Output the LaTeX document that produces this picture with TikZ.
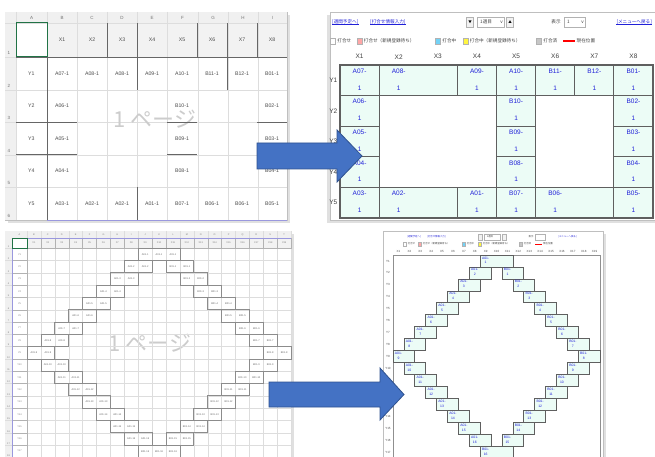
\documentclass[tikz,border=0pt]{standalone}
\usepackage{fontspec}
\setmainfont{Liberation Sans}
\newfontfamily\jpfont{Noto Sans CJK JP}
\usepackage{tikz}
\usetikzlibrary{positioning}

\definecolor{gridgray}{HTML}{DDDDDD}
\definecolor{headgray}{HTML}{F0F0F0}
\definecolor{selgreen}{HTML}{217346}
\definecolor{selblue}{HTML}{9A98DE}
\definecolor{cellfill}{HTML}{ECFCF6}
\definecolor{celledge}{HTML}{5F5F5F}
\definecolor{linkblue}{HTML}{2020D8}
\definecolor{arrowfill}{HTML}{4472C4}
\definecolor{arrowedge}{HTML}{2F528F}

% row / first column / last column / prefix / number
\newcommand{\diamondcells}{%
  1/9/11/A/1, 2/8/9/A/2, 3/7/8/A/3, 4/6/7/A/4, 5/5/6/A/5, 6/4/5/A/6,
  7/3/4/A/7, 8/2/3/A/8, 9/1/2/A/9, 10/2/3/A/10, 11/3/4/A/11, 12/4/5/A/12,
  13/5/6/A/13, 14/6/7/A/14, 15/7/8/A/15, 16/8/9/A/16,
  2/11/12/B/1, 3/12/13/B/2, 4/13/14/B/3, 5/14/15/B/4, 6/15/16/B/5,
  7/16/17/B/6, 8/17/18/B/7, 9/18/19/B/8, 10/17/18/B/9, 11/16/17/B/10,
  12/15/16/B/11, 13/14/15/B/12, 14/13/14/B/13, 15/12/13/B/14,
  16/11/12/B/15, 17/9/11/B/16}

\begin{document}
\begin{tikzpicture}[x=1pt, y=-1pt,
    every node/.style={inner sep=0pt, font=\fontsize{5}{6}\selectfont},
    panel/.style={draw=gray!50, fill=white, line width=0.6pt},
    panelshadow/.style={fill=black!12},
    gridline/.style={gridgray, line width=0.4pt},
    groupline/.style={black!60, line width=0.9pt},
    hdr/.style={text=black!55, font=\fontsize{4.5}{5}\selectfont},
    tinyhdr/.style={text=black!50, font=\fontsize{2.4}{3}\selectfont},
    sheettext/.style={text=black!70, font=\fontsize{5.2}{6}\selectfont},
    tinytext/.style={text=black!60, font=\fontsize{2.5}{3}\selectfont},
    watermark/.style={text=gray!40, font=\jpfont\fontsize{22}{24}\selectfont},
    webcell/.style={draw=celledge, fill=cellfill, line width=0.9pt},
    webtext/.style={text=linkblue, font=\fontsize{6.5}{7}\selectfont},
    webtiny/.style={text=linkblue, font=\fontsize{3.4}{4}\selectfont},
    weblabel/.style={text=black!75, font=\fontsize{6.5}{7}\selectfont},
    weblabeltiny/.style={text=black!70, font=\fontsize{3}{3.5}\selectfont},
    link/.style={text=linkblue, font=\jpfont\fontsize{4.6}{5}\selectfont},
    linktiny/.style={text=linkblue, font=\jpfont\fontsize{2.4}{3}\selectfont},
    legend/.style={text=black!75, font=\jpfont\fontsize{4.6}{5}\selectfont},
    legendtiny/.style={text=black!75, font=\jpfont\fontsize{2.4}{3}\selectfont},
    swatch/.style={draw=gray!60, minimum width=5pt, minimum height=6.5pt},
    swatchtiny/.style={draw=gray!60, minimum width=3pt, minimum height=3.6pt},
    btn/.style={draw=gray!60, fill=gray!10, minimum width=7pt, minimum height=10pt},
    selbox/.style={draw=gray!60, fill=white, minimum height=10pt},
    bigarrow/.style={fill=arrowfill, draw=arrowedge, line width=0.8pt}
  ]
  \useasboundingbox (0,0) rectangle (655,457);

  % Top left: spreadsheet, 8 columns
  \fill[panelshadow] (8,15) rectangle (290,223);
  \draw[panel] (5,12) rectangle (287,220);
  \fill[headgray] (5,12) rectangle (287,23);
  \fill[headgray] (5,23) rectangle (16,220);
  \fill[gray!10] (47,23) rectangle (287,57);
  \foreach \x in {16,47,77,107,137,167,198,228,258}
    \draw[gridline] (\x,12) -- (\x,220);
  \foreach \y in {23,57,90,122,155,187}
    \draw[gridline] (5,\y) -- (287,\y);
  \foreach \l/\x in {A/31.5,B/62,C/92,D/122,E/152,F/182.5,G/213,H/243,I/272.5}
    \node[hdr] (tlcol\l) at (\x,17.5) {\l};
  \foreach \n/\y in {1/53,2/86,3/118,4/151,5/183,6/216}
    \node[hdr] (tlrow\n) at (9,\y) {\n};
  \draw[selgreen, line width=1pt] (16,23) rectangle (47,57);
  \node[watermark] (tlmark) at (155,119) {1 ページ};

  \begin{scope}[shift={(47,57)}, x=30pt, y=-32.6pt]
    \foreach \txt [count=\c] in {X1,X2,X3,X4,X5,X6,X7,X8}
      \node[sheettext] (tlx\c) at (\c-0.5,-0.52) {\txt};
    \foreach \r in {1,...,5}
      \node[sheettext] (tly\r) at (-0.52,\r-0.5) {Y\r};
    \foreach \txt [count=\c] in {A07-1,A08-1,A08-1,A09-1,A10-1,B11-1,B12-1,B01-1}
      \node[sheettext] (tlcell1-\c) at (\c-0.5,0.5) {\txt};
    \foreach \r/\a/\m/\b in {2/A06/B10/B02, 3/A05/B09/B03, 4/A04/B08/B04} {
      \node[sheettext] (tlcell\r-1) at (0.5,\r-0.5) {\a-1};
      \node[sheettext] (tlcell\r-5) at (4.5,\r-0.5) {\m-1};
      \node[sheettext] (tlcell\r-8) at (7.5,\r-0.5) {\b-1};
    }
    \foreach \txt [count=\c] in {A03-1,A02-1,A02-1,A01-1,B07-1,B06-1,B06-1,B05-1}
      \node[sheettext] (tlcell5-\c) at (\c-0.5,4.5) {\txt};
    % print area borders
    \draw[groupline] (-1.03,0) -- (8,0);
    \draw[groupline] (0,0) -- (0,5);
    \foreach \x in {2,5,7} \draw[groupline] (\x,-1.03) -- (\x,0);
    \foreach \x in {3,6} \draw[groupline] (\x,-1.03) -- (\x,1);
    \foreach \y in {2,3} {
      \draw[groupline] (-1.03,\y) -- (1,\y);
      \draw[groupline] (4,\y) -- (5,\y);
      \draw[groupline] (7,\y) -- (8,\y);
    }
    \draw[groupline] (3,4) -- (3,5);
    \draw[selblue, line width=1pt] (0,5) -- (8,5);
  \end{scope}

  % Top right: web screen, 8 columns
  \fill[panelshadow] (327,15) rectangle (658,223);
  \draw[panel] (330,12) rectangle (658,220);
  \node[link, anchor=west] (trweek) at (332,22) {[週間予定へ]};
  \node[link, anchor=west] (trinput) at (370,22) {[打合せ情報入力]};
  \draw[linkblue, line width=0.3pt] (trweek.south west) -- (trweek.south east);
  \draw[linkblue, line width=0.3pt] (trinput.south west) -- (trinput.south east);
  \node[btn] (trprev) at (470,22) {\jpfont\fontsize{3.5}{4}\selectfont▼};
  \node[selbox, minimum width=27pt] (trweeksel) at (491,22) {};
  \node[legend, anchor=west] (trweektext) at (480,22) {1週目};
  \node[legend, anchor=east] (trweekdrop) at (503,22) {v};
  \node[btn] (trnext) at (510,22) {\jpfont\fontsize{3.5}{4}\selectfont▲};
  \node[legend] (trshow) at (556,22) {表示};
  \node[selbox, minimum width=21pt] (trshowsel) at (575,22) {};
  \node[legend, anchor=west] (trshowval) at (567,22) {1};
  \node[legend, anchor=east] (trshowdrop) at (584,22) {v};
  \node[link, anchor=east] (trmenu) at (652,22) {[メニューへ戻る]};
  \draw[linkblue, line width=0.3pt] (trmenu.south west) -- (trmenu.south east);

  % legend
  \node[swatch, fill=white] (lgnone) at (333,41) {};
  \node[legend, right=1.5pt of lgnone] (lgnonetext) {打合せ};
  \node[swatch, fill=red!35] (lgwait) at (359.5,41) {};
  \node[legend, right=1.5pt of lgwait] (lgwaittext) {打合せ（新規登録待ち）};
  \node[swatch, fill=cyan!55] (lgnow) at (438,41) {};
  \node[legend, right=1.5pt of lgnow] (lgnowtext) {打合中};
  \node[swatch, fill=yellow!75] (lgnowwait) at (465.5,41) {};
  \node[legend, right=1.5pt of lgnowwait] (lgnowwaittext) {打合中（新規登録待ち）};
  \node[swatch, fill=gray!45] (lgdone) at (539,41) {};
  \node[legend, right=1.5pt of lgdone] (lgdonetext) {打合済};
  \coordinate (lgpos) at (563,41);
  \draw[red, line width=1.2pt] (lgpos) -- ++(12,0) coordinate (lgposend);
  \node[legend, right=1.5pt of lgposend] (lgpostext) {現在位置};

  \begin{scope}[shift={(340,65)}, x=39.125pt, y=-30.6pt]
    \foreach \txt [count=\c] in {X1,X2,X3,X4,X5,X6,X7,X8}
      \node[weblabel] (trx\c) at (\c-0.5,-0.27) {\txt};
    \foreach \r in {1,...,5}
      \node[weblabel] (try\r) at (-0.17,\r-0.5) {Y\r};
    \foreach \r/\a/\b/\txt in {1/1/1/A07, 1/2/3/A08, 1/4/4/A09, 1/5/5/A10,
        1/6/6/B11, 1/7/7/B12, 1/8/8/B01, 2/1/1/A06, 2/5/5/B10, 2/8/8/B02,
        3/1/1/A05, 3/5/5/B09, 3/8/8/B03, 4/1/1/A04, 4/5/5/B08, 4/8/8/B04,
        5/1/1/A03, 5/2/3/A02, 5/4/4/A01, 5/5/5/B07, 5/6/7/B06, 5/8/8/B05} {
      \draw[webcell] (\a-1,\r-1) rectangle (\b,\r);
      \node[webtext] (tr\txt-top) at (\a-0.5,\r-0.8) {\txt-};
      \node[webtext] (tr\txt-num) at (\a-0.5,\r-0.25) {1};
    }
    \draw[celledge, line width=1.1pt] (0,0) rectangle (8,5);
  \end{scope}

  % Bottom left: spreadsheet, 19 columns
  \fill[panelshadow] (8,234) rectangle (294,460);
  \draw[panel] (5,231) rectangle (291,462);
  \fill[headgray] (5,231) rectangle (291,238);
  \fill[headgray] (5,238) rectangle (12,462);
  \fill[gray!10] (27,238) rectangle (291,248);
  \node[watermark] (blmark) at (150,343) {1 ページ};

  \begin{scope}[shift={(27,248.2)}, x=13.9pt, y=-12.3pt]
    \foreach \c in {0,...,19} \draw[gridline] (\c,-1.4) -- (\c,17.5);
    \foreach \r in {0,...,17} \draw[gridline] (-1.58,\r) -- (19,\r);
    \node[tinyhdr] (blcolA) at (-0.54,-1.12) {A};
    \foreach \l [count=\c] in {B,C,D,E,F,G,H,I,J,K,L,M,N,O,P,Q,R,S,T}
      \node[tinyhdr] (blcol\l) at (\c-0.5,-1.12) {\l};
    \foreach \c in {1,...,19} {
      \draw[black!30, line width=0.4pt] (\c-1,-0.83) rectangle (\c,0);
      \node[tinyhdr] (blx\c) at (\c-0.5,-0.42) {X\c};
    }
    \foreach \r in {1,...,17} {
      \draw[black!30, line width=0.4pt] (-1.08,\r-1) rectangle (0,\r);
      \node[tinyhdr] (bly\r) at (-0.54,\r-0.5) {Y\r};
    }
    \foreach \r [count=\n] in {0,...,17}
      \node[tinyhdr] (blrow\n) at (-1.33,\r-0.12) {\n};
    \draw[selblue, line width=0.8pt] (-1.08,-0.83) -- (19,-0.83);
    \draw[selblue, line width=0.8pt] (-1.08,-0.83) -- (-1.08,17.5);
    \draw[selgreen, line width=0.8pt] (-1.08,-0.83) rectangle (0,0);
    \foreach \r/\a/\b/\p/\n in \diamondcells {
      \draw[black!45, line width=0.7pt] (\a-1,\r-1) rectangle (\b,\r);
      \foreach \c in {\a,...,\b}
        \node[tinytext] (blcell\r-\c) at (\c-0.5,\r-0.5) {\p01-\n};
    }
  \end{scope}

  % Bottom right: web screen, 19 columns
  \fill[panelshadow] (386,234) rectangle (606,460);
  \draw[panel] (383,231) rectangle (603,462);
  \node[linktiny, anchor=west] (brweek) at (407,237) {[週間予定へ]};
  \node[linktiny, anchor=west] (brinput) at (427,237) {[打合せ情報入力]};
  \node[btn, minimum width=4pt, minimum height=5.5pt] (brprev) at (480,237) {};
  \node[selbox, minimum width=16pt, minimum height=5.5pt] (brweeksel) at (492,237) {};
  \node[legendtiny] (brweektext) at (490,237) {1週目};
  \node[btn, minimum width=4pt, minimum height=5.5pt] (brnext) at (504,237) {};
  \node[legendtiny] (brshow) at (531,237) {表示};
  \node[selbox, minimum width=10pt, minimum height=5.5pt] (brshowsel) at (540.5,237) {};
  \node[linktiny, anchor=west] (brmenu) at (558,237) {[メニューへ戻る]};

  % legend
  \node[swatchtiny, fill=white] (brlgnone) at (405,244) {};
  \node[legendtiny, right=1pt of brlgnone] (brlgnonetext) {打合せ};
  \node[swatchtiny, fill=red!35] (brlgwait) at (420,244) {};
  \node[legendtiny, right=1pt of brlgwait] (brlgwaittext) {打合せ（新規登録待ち）};
  \node[swatchtiny, fill=cyan!55] (brlgnow) at (464,244) {};
  \node[legendtiny, right=1pt of brlgnow] (brlgnowtext) {打合中};
  \node[swatchtiny, fill=yellow!75] (brlgnowwait) at (480,244) {};
  \node[legendtiny, right=1pt of brlgnowwait] (brlgnowwaittext) {打合中（新規登録待ち）};
  \node[swatchtiny, fill=gray!45] (brlgdone) at (521,244) {};
  \node[legendtiny, right=1pt of brlgdone] (brlgdonetext) {打合済};
  \coordinate (brlgpos) at (535,244);
  \draw[red, line width=0.8pt] (brlgpos) -- ++(7,0) coordinate (brlgposend);
  \node[legendtiny, right=1pt of brlgposend] (brlgpostext) {現在位置};

  \begin{scope}[shift={(393,255)}, x=10.9pt, y=-11.95pt]
    \foreach \c in {1,...,19}
      \node[weblabeltiny] (brx\c) at (\c-0.5,-0.33) {X\c};
    \foreach \r in {1,...,17}
      \node[weblabeltiny] (bry\r) at (-0.46,\r-0.5) {Y\r};
    \draw[celledge!70, line width=0.8pt] (0,0) rectangle (19,17.5);
    \foreach \r/\a/\b/\p/\n in \diamondcells {
      \draw[webcell, line width=0.7pt] (\a-1,\r-1) rectangle (\b,\r);
      \node[webtiny] (brcell\r-\a-top) at (\a-0.5,\r-0.76) {\p01-};
      \node[webtiny] (brcell\r-\a-num) at (\a-0.5,\r-0.36) {\n};
    }
  \end{scope}

  % Arrows between the panels
  \draw[bigarrow] (257,143) -- (337,143) -- (337,130) -- (362,156) -- (337,182)
    -- (337,169) -- (257,169) -- cycle;
  \draw[bigarrow] (269,382) -- (380,382) -- (380,368) -- (404,394.5) -- (380,420)
    -- (380,407) -- (269,407) -- cycle;

\end{tikzpicture}
\end{document}
